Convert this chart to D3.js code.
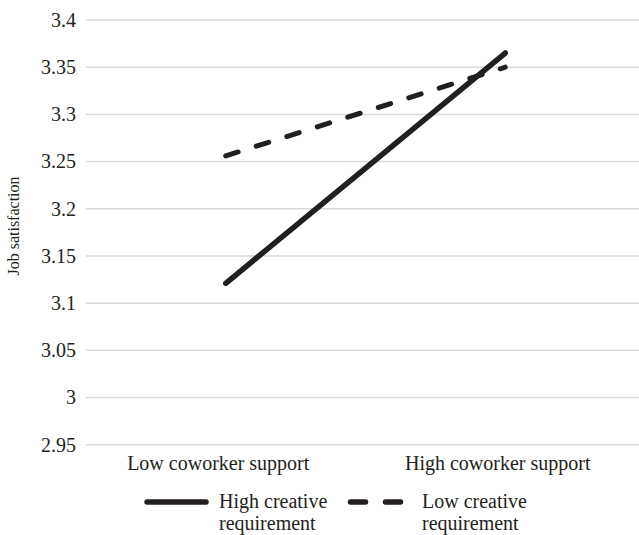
<!DOCTYPE html>
<html><head><meta charset="utf-8">
<script src="https://cdn.jsdelivr.net/npm/d3@7/dist/d3.min.js"></script>
<style>body{margin:0;background:#fff}svg{display:block}svg text{font-family:'Liberation Serif','Times New Roman',serif}</style>
</head><body>
<script>
const categories = ["Low coworker support", "High coworker support"];
const highCreative = [3.121, 3.365];
const lowCreative = [3.256, 3.35];
const yTicks = [2.95, 3, 3.05, 3.1, 3.15, 3.2, 3.25, 3.3, 3.35, 3.4];
const seriesNames = ["High creative requirement", "Low creative requirement"];

const W = 639, H = 535;
const ink = "#231f20";
const svg = d3.select("body").append("svg").attr("width", W).attr("height", H);

const x = d3.scalePoint().domain(categories).range([86, 645]).padding(0.5);
const y = d3.scaleLinear().domain([2.95, 3.4]).range([444.7, 20]);

// gridlines
svg.append("g").selectAll("line").data(yTicks).join("line")
  .attr("x1", 86).attr("x2", 645)
  .attr("y1", d => y(d)).attr("y2", d => y(d))
  .attr("stroke", "#d9d9d9").attr("stroke-width", 1.5);

const yAxis = d3.axisLeft(y).tickValues(yTicks).tickSize(0).tickPadding(10)
  .tickFormat(d => String(+d.toFixed(2)));
const gy = svg.append("g").attr("transform", "translate(86,0)").call(yAxis);
gy.attr("font-family", null).attr("font-size", null);
gy.select(".domain").remove();
gy.selectAll("text").style("font-size", "20px").attr("fill", ink);

// x labels
const xAxis = d3.axisBottom(x).tickSize(0).tickPadding(11);
const gx = svg.append("g").attr("transform", "translate(0,444.7)").call(xAxis);
gx.attr("font-family", null).attr("font-size", null);
gx.select(".domain").remove();
gx.selectAll("text").style("font-size", "20px").attr("fill", ink).attr("dx", -8);

// y title
svg.append("text").attr("transform", "translate(19,226) rotate(-90)")
  .attr("text-anchor", "middle").style("font-size", "16px").attr("fill", ink)
  .text("Job satisfaction");

const line = d3.line().x((d, i) => x(categories[i])).y(d => y(d));
svg.append("path").datum(lowCreative).attr("d", line)
  .attr("fill", "none").attr("stroke", ink).attr("stroke-width", 5)
  .attr("stroke-linecap", "round").attr("stroke-dasharray", "13,19");
svg.append("path").datum(highCreative).attr("d", line)
  .attr("fill", "none").attr("stroke", ink).attr("stroke-width", 5.5)
  .attr("stroke-linecap", "round");

// legend
const leg = [
  {x1: 147, x2: 206, tx: 219, dash: null, lines: ["High creative", "requirement"]},
  {x1: 350.5, x2: 400.5, tx: 422, dash: "15,20", lines: ["Low creative", "requirement"]}
];
leg.forEach((l, i) => {
  svg.append("line").attr("x1", l.x1).attr("x2", l.x2).attr("y1", 502).attr("y2", 502)
    .attr("stroke", ink).attr("stroke-width", 5.5).attr("stroke-linecap", "round")
    .attr("stroke-dasharray", l.dash);
  const t = svg.append("text").attr("x", l.tx).attr("y", 508).style("font-size", "20px").attr("fill", ink);
  t.append("tspan").attr("x", l.tx).text(l.lines[0]);
  t.append("tspan").attr("x", l.tx).attr("dy", 22).text(l.lines[1]);
});
</script>
</body></html>
